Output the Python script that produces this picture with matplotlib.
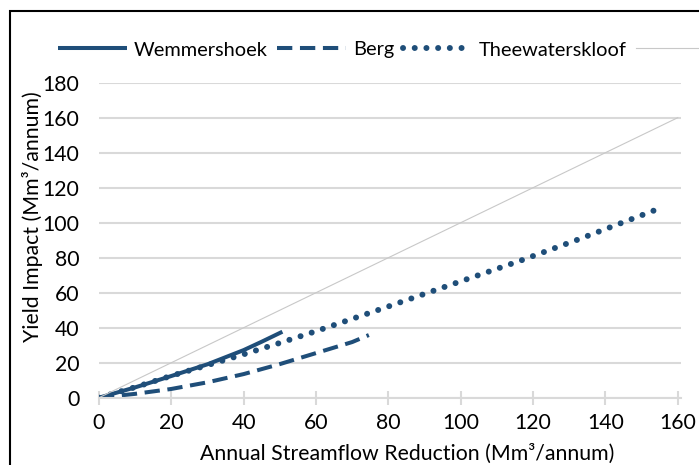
import matplotlib
matplotlib.use("Agg")
import matplotlib.pyplot as plt
from matplotlib.patches import Rectangle

# ---- data ----
wem_x = [0, 10, 20, 30, 40, 45, 50.7]
wem_y = [0, 5.9, 12.4, 19.1, 27.2, 32.0, 37.7]

berg_x = [0, 10, 20, 30, 40, 50, 60, 70, 74.6]
berg_y = [0, 2.2, 5.0, 8.8, 13.5, 19.2, 25.5, 31.8, 35.8]

thee_x = [0, 10, 20, 30, 40, 50, 60, 78, 100, 116.5, 132.6, 154.5]
thee_y = [0, 6.0, 12.5, 18.6, 24.8, 31.3, 38.0, 50.7, 66.5, 78.3, 90.5, 107.8]

ref_x = [0, 160]
ref_y = [0, 160]

labels = ["Wemmershoek", "Berg", "Theewaterskloof", " "]
xticks = [0, 20, 40, 60, 80, 100, 120, 140, 160]
yticks = [0, 20, 40, 60, 80, 100, 120, 140, 160, 180]
xlabel = "Annual Streamflow Reduction (Mm³/annum)"
ylabel = "Yield Impact (Mm³/annum)"

W, H = 699, 465
DPI = 100
FS = 15.3
LFS = 14.4
plt.rcParams['font.family'] = ['Lato', 'DejaVu Sans']

fig = plt.figure(figsize=(W / DPI, H / DPI), dpi=DPI)
ax = fig.add_axes([99 / W, (H - 397.7) / H, 582 / W, 315 / H])

color = "#1F4E79"
l1, = ax.plot(wem_x, wem_y, color=color, lw=2.9, solid_capstyle='butt')
l2, = ax.plot(berg_x, berg_y, color=color, lw=2.9, linestyle=(0, (3.8, 1.9)),
              dash_capstyle='butt')
l3, = ax.plot(thee_x, thee_y, color=color, lw=4.3, linestyle=(0, (0.01, 1.95)),
              dash_capstyle='round')
l4, = ax.plot(ref_x, ref_y, color="#C8C8C8", lw=0.8)

ax.set_xlim(0, 160.9)
ax.set_ylim(0, 180)
ax.set_xticks(xticks)
ax.set_yticks(yticks)

for s in ["top", "right", "left"]:
    ax.spines[s].set_visible(False)
ax.spines["bottom"].set_color("#D9D9D9")
ax.spines["bottom"].set_linewidth(1.5)
ax.yaxis.grid(True, color="#D9D9D9", lw=1.5)
ax.set_axisbelow(True)

ax.tick_params(axis='y', length=0, pad=14, labelsize=FS, labelcolor='black')
ax.tick_params(axis='x', direction='inout', length=9.5, width=1.5, color="#D9D9D9",
               pad=6, labelsize=FS, labelcolor='black')

ax.set_xlabel(xlabel, fontsize=FS, color='black')
ax.xaxis.set_label_coords((407 - 99) / 582, (397.7 - 454) / 315)
ax.xaxis.label.set_va('center')
ax.set_ylabel(ylabel, fontsize=FS, color='black')
ax.yaxis.set_label_coords((33 - 99) / 582, (397.7 - 217) / 315)
ax.yaxis.label.set_va('center')

leg = fig.legend(handles=[l1, l2, l3, l4], labels=labels, ncol=4, frameon=False,
                 loc='center left', bbox_to_anchor=(58 / W, 1 - 50 / H),
                 fontsize=LFS, handlelength=3.45, handletextpad=0.35,
                 columnspacing=0.45, borderpad=0, borderaxespad=0)

fig.patches.append(Rectangle((10 / W, -0.1), 1.2, (H - 11) / H + 0.1,
                             transform=fig.transFigure, fill=False,
                             edgecolor='black', lw=1.5))

fig.savefig("out.png", dpi=DPI)
